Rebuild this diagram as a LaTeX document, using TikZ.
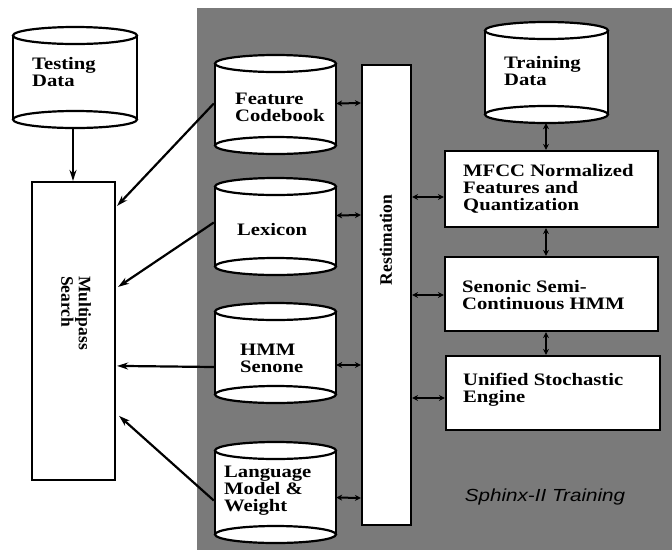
\documentclass[tikz,border=0pt]{standalone}
\usepackage{fontspec}
\usepackage{graphicx}
\setmainfont{Liberation Serif}
\newfontfamily\sphinxfont{Liberation Sans}
\usetikzlibrary{arrows.meta,calc,fit}
\newcommand{\wide}[1]{\scalebox{1.18}[1]{\begin{tabular}{@{}l@{}}#1\end{tabular}}}
\tikzset{
  outl/.style={line width=2.2pt, black},
  boxnode/.style={draw, line width=2.2pt, fill=white, inner sep=0pt},
  lbl/.style={anchor=north west, inner sep=0pt,
    font=\bfseries\fontsize{17.5}{17}\selectfont},
  rotlbl/.style={inner sep=0pt, align=left,
    font=\bfseries\fontsize{17.5}{17.5}\selectfont},
  mainarrow/.style={line width=2.2pt, -{Stealth[length=11pt,width=7pt]}},
  dblarrow/.style={line width=2pt, {Stealth[length=6pt,width=6pt]}-{Stealth[length=6pt,width=6pt]}},
}
\newcommand{\dbcyl}[5]{%
  \pgfmathsetmacro\cx{(#2+#4)/2}%
  \pgfmathsetmacro\rx{(#4-#2)/2}%
  \def\ry{8.5}%
  \fill[white] (#2,#3+\ry) rectangle (#4,#5-\ry);
  \fill[white] (\cx,#3+\ry) ellipse [x radius=\rx, y radius=\ry];
  \fill[white] (\cx,#5-\ry) ellipse [x radius=\rx, y radius=\ry];
  \draw[outl] (#2,#3+\ry) -- (#2,#5-\ry);
  \draw[outl] (#4,#3+\ry) -- (#4,#5-\ry);
  \draw[outl] (\cx,#3+\ry) ellipse [x radius=\rx, y radius=\ry];
  \draw[outl] (\cx,#5-\ry) ellipse [x radius=\rx, y radius=\ry];
  \node[inner sep=0pt, fit={(#2,#3) (#4,#5)}] (#1) {};
}
\begin{document}
\begin{tikzpicture}[x=1pt,y=-1pt]
\useasboundingbox (0,0) rectangle (672,550);
\fill[white] (0,0) rectangle (672,550);
% shaded training region
\fill[black!52] (197,8) rectangle (672,550);

% cylinders
\dbcyl{td}{13}{27}{137}{128}
\dbcyl{fc}{215}{55}{336}{154}
\dbcyl{lex}{215}{178}{336}{275}
\dbcyl{hmm}{215}{303}{336}{403}
\dbcyl{lm}{215}{442}{336}{543}
\dbcyl{trd}{485}{22}{608}{123}

% boxes
\node[boxnode, fit={(32,182) (115,480)}] (ms) {};
\node[boxnode, fit={(362,65) (411,525)}] (rest) {};
\node[boxnode, fit={(445,151) (658,227)}] (mfcc) {};
\node[boxnode, fit={(445,257) (658,331)}] (sen) {};
\node[boxnode, fit={(446,356) (660,430)}] (use) {};

% labels
\node[lbl] (tdt) at (32,57) {\wide{Testing\\Data}};
\node[lbl] (fct) at (235,92) {\wide{Feature\\Codebook}};
\node[lbl] (lext) at (237,223) {\wide{Lexicon}};
\node[lbl] (hmmt) at (240,343) {\wide{HMM\\Senone}};
\node[lbl] (lmt) at (224,465) {\wide{Language\\Model \&\\Weight}};
\node[lbl] (trdt) at (504,56) {\wide{Training\\Data}};
\node[lbl] (mfcct) at (463,164) {\wide{MFCC Normalized\\Features and\\Quantization}};
\node[lbl] (sent) at (462,280) {\wide{Senonic Semi-\\Continuous HMM}};
\node[lbl] (uset) at (463,373) {\wide{Unified Stochastic\\Engine}};
\node[rotlbl, rotate=-90] (mst) at (76,313) {Multipass\\Search};
\node[rotlbl, rotate=90] (restt) at (386,240) {Restimation};
\node[inner sep=0pt, font=\sphinxfont\itshape\fontsize{17.5}{17.5}\selectfont] (sph) at (545,497) {\scalebox{1.18}[1]{Sphinx-II Training}};

% main arrows into Multipass Search
\draw[mainarrow] (td.south -| 73,0) -- (ms.north -| 73,0);
\draw[mainarrow] ($(fc.west)+(-1,-1)$) -- ($(ms.north east)+(1,25)$);
\draw[mainarrow] ($(lex.west)+(-1,-4)$) -- ($(ms.north east)+(2,106)$);
\draw[mainarrow] ($(hmm.west)+(-1,14)$) -- ($(ms.north east)+(1,185)$);
\draw[mainarrow] ($(lm.west)+(-1,8)$) -- ($(ms.north east)+(3,235)$);

% double arrows to Restimation
\draw[dblarrow] ($(fc.east)+(0,-1)$) -- (rest.west |- 0,103);
\draw[dblarrow] ($(lex.east)+(0,-11)$) -- (rest.west |- 0,215);
\draw[dblarrow] ($(hmm.east)+(0,12)$) -- (rest.west |- 0,365);
\draw[dblarrow] ($(lm.east)+(0,5)$) -- (rest.west |- 0,498);
\draw[dblarrow] (rest.east |- 0,197) -- (mfcc.west |- 0,197);
\draw[dblarrow] (rest.east |- 0,295) -- (sen.west |- 0,295);
\draw[dblarrow] (rest.east |- 0,398) -- (use.west |- 0,398);

% vertical chain on the right
\draw[dblarrow] (trd.south -| 546,0) -- (mfcc.north -| 546,0);
\draw[dblarrow] (mfcc.south -| 546,0) -- (sen.north -| 546,0);
\draw[dblarrow] (sen.south -| 546,0) -- (use.north -| 546,0);
\end{tikzpicture}
\end{document}
